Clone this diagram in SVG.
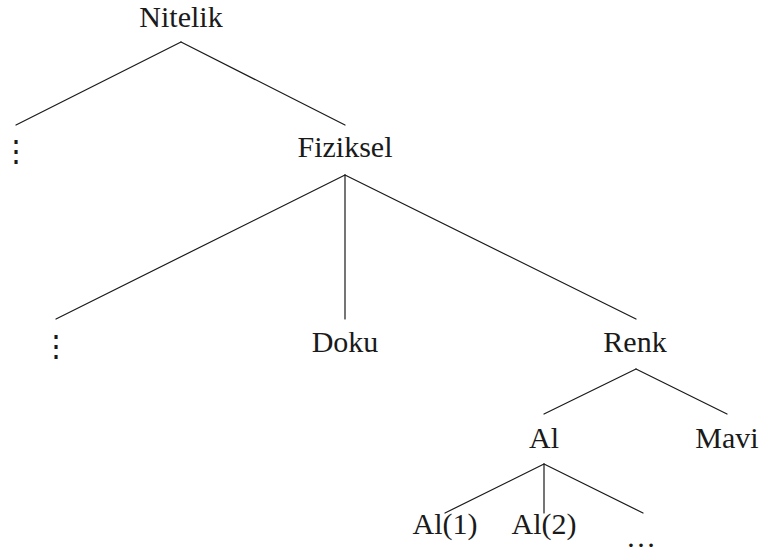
<svg xmlns="http://www.w3.org/2000/svg" width="763" height="560" viewBox="0 0 763 560">
  <style>
    .lbl { font-family: 'Liberation Serif', serif; font-size: 30px; fill: #1a1a1a; text-anchor: middle; }
    .dots { font-family: 'DejaVu Serif', serif; font-size: 30px; fill: #1a1a1a; text-anchor: middle; }
    .edge { stroke: #1a1a1a; stroke-width: 1.2; fill: none; stroke-linecap: round; }
  </style>
  <rect width="763" height="560" fill="#ffffff"/>

  <!-- tree edges -->
  <g id="connectors">
    <line class="edge" x1="181" y1="42" x2="16" y2="125"/>
    <line class="edge" x1="181" y1="42" x2="345" y2="125"/>
    <line class="edge" x1="345" y1="175" x2="56" y2="319"/>
    <line class="edge" x1="345" y1="175" x2="345" y2="319"/>
    <line class="edge" x1="345" y1="175" x2="636" y2="319"/>
    <line class="edge" x1="636" y1="369" x2="544" y2="414"/>
    <line class="edge" x1="636" y1="369" x2="727" y2="414"/>
    <line class="edge" x1="544" y1="464" x2="445" y2="513"/>
    <line class="edge" x1="544" y1="464" x2="544" y2="513"/>
    <line class="edge" x1="544" y1="464" x2="643" y2="513"/>
  </g>

  <g id="nitelik"><text class="lbl" x="181" y="27" font-family="DejaVu Serif">Nitelik</text></g>
  <g id="vdots-1"><text class="dots" x="16" y="161">⋮</text></g>
  <g id="fiziksel"><text class="lbl" x="345" y="157">Fiziksel</text></g>
  <g id="vdots-2"><text class="dots" x="56" y="356">⋮</text></g>
  <g id="doku"><text class="lbl" x="345" y="352">Doku</text></g>
  <g id="renk"><text class="lbl" x="635" y="352">Renk</text></g>
  <g id="al"><text class="lbl" x="544" y="448">Al</text></g>
  <g id="mavi"><text class="lbl" x="727" y="448">Mavi</text></g>
  <g id="al-1"><text class="lbl" x="445" y="534">Al(1)</text></g>
  <g id="al-2"><text class="lbl" x="544" y="534">Al(2)</text></g>
  <g id="al-more"><text class="lbl" x="641" y="547">…</text></g>
</svg>
